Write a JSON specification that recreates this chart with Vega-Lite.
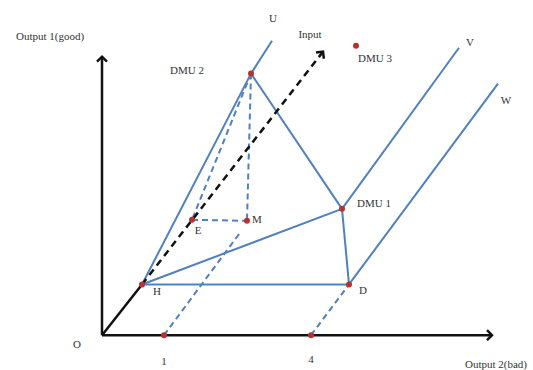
{
  "$schema": "https://vega.github.io/schema/vega-lite/v6.json",
  "width": 533,
  "height": 370,
  "autosize": {"type": "fit", "contains": "padding"},
  "padding": 0,
  "background": "white",
  "config": {"view": {"stroke": null}},
  "datasets": {
    "segments": [
      {"kind": "axis", "x": 0, "y": 0, "x2": 0, "y2": 280},
      {"kind": "axis", "x": 0, "y": 0, "x2": 390, "y2": 0},
      {"kind": "axis", "x": 0, "y": 0, "x2": 40, "y2": 51},
      {"kind": "input", "x": 40, "y": 51, "x2": 221, "y2": 285},
      {"kind": "solid", "x": 40, "y": 51, "x2": 149, "y2": 263},
      {"kind": "solid", "x": 149, "y": 263, "x2": 170, "y2": 296},
      {"kind": "solid", "x": 149, "y": 263, "x2": 240, "y2": 127},
      {"kind": "solid", "x": 40, "y": 51, "x2": 240, "y2": 127},
      {"kind": "solid", "x": 240, "y": 127, "x2": 247, "y2": 51},
      {"kind": "solid", "x": 40, "y": 51, "x2": 247, "y2": 51},
      {"kind": "solid", "x": 240, "y": 127, "x2": 357, "y2": 289},
      {"kind": "solid", "x": 247, "y": 51, "x2": 396, "y2": 253},
      {"kind": "dashed", "x": 149, "y": 263, "x2": 90, "y2": 116},
      {"kind": "dashed", "x": 149, "y": 263, "x2": 145, "y2": 115},
      {"kind": "dashed", "x": 90, "y": 116, "x2": 145, "y2": 115},
      {"kind": "dashed", "x": 62, "y": 0, "x2": 138, "y2": 103},
      {"kind": "dashed", "x": 209, "y": 0, "x2": 247, "y2": 51}
    ],
    "points": [
      {"name": "H", "x": 40, "y": 51},
      {"name": "E", "x": 90, "y": 116},
      {"name": "M", "x": 145, "y": 115},
      {"name": "DMU 2", "x": 149, "y": 263},
      {"name": "DMU 1", "x": 240, "y": 127},
      {"name": "D", "x": 247, "y": 51},
      {"name": "DMU 3", "x": 254, "y": 291},
      {"name": "1", "x": 62, "y": 0},
      {"name": "4", "x": 209, "y": 0}
    ],
    "labels": [
      {"label": "Output 1(good)", "x": -52, "y": 300},
      {"label": "DMU 2", "x": 85, "y": 266},
      {"label": "U", "x": 171, "y": 318},
      {"label": "Input", "x": 208, "y": 302},
      {"label": "DMU 3", "x": 273, "y": 278},
      {"label": "V", "x": 368, "y": 294},
      {"label": "W", "x": 404, "y": 235},
      {"label": "DMU 1", "x": 272, "y": 132},
      {"label": "E", "x": 96, "y": 105},
      {"label": "M", "x": 155, "y": 116},
      {"label": "H", "x": 55, "y": 43},
      {"label": "D", "x": 261, "y": 44},
      {"label": "O", "x": -25, "y": -10},
      {"label": "1", "x": 62, "y": -27},
      {"label": "4", "x": 209, "y": -25},
      {"label": "Output 2(bad)", "x": 394, "y": -30}
    ],
    "arrows": [
      {"name": "y-axis", "x": 0, "y": 280, "dir": "up"},
      {"name": "x-axis", "x": 390, "y": 0, "dir": "right"},
      {"name": "input", "x": 221, "y": 285, "dir": "input"}
    ]
  },
  "encoding": {
    "x": {"field": "x", "type": "quantitative", "scale": {"domain": [-102, 431], "nice": false, "zero": false}, "axis": null},
    "y": {"field": "y", "type": "quantitative", "scale": {"domain": [-33, 337], "nice": false, "zero": false}, "axis": null}
  },
  "layer": [
    {
      "data": {"name": "segments"},
      "transform": [{"filter": "datum.kind === 'solid'"}],
      "mark": {"type": "rule", "color": "#4f81bd", "strokeWidth": 2},
      "encoding": {"x2": {"field": "x2"}, "y2": {"field": "y2"}}
    },
    {
      "data": {"name": "segments"},
      "transform": [{"filter": "datum.kind === 'dashed'"}],
      "mark": {"type": "rule", "color": "#4f81bd", "strokeWidth": 2, "strokeDash": [6, 4]},
      "encoding": {"x2": {"field": "x2"}, "y2": {"field": "y2"}}
    },
    {
      "data": {"name": "segments"},
      "transform": [{"filter": "datum.kind === 'axis'"}],
      "mark": {"type": "rule", "color": "#111111", "strokeWidth": 2.5},
      "encoding": {"x2": {"field": "x2"}, "y2": {"field": "y2"}}
    },
    {
      "data": {"name": "segments"},
      "transform": [{"filter": "datum.kind === 'input'"}],
      "mark": {"type": "rule", "color": "#111111", "strokeWidth": 2.5, "strokeDash": [7, 5]},
      "encoding": {"x2": {"field": "x2"}, "y2": {"field": "y2"}}
    },
    {
      "data": {"name": "arrows"},
      "transform": [{"filter": "datum.dir === 'up'"}],
      "mark": {"type": "point", "shape": "M-1,1L0,0L1,1", "filled": false, "stroke": "#111111", "strokeWidth": 2.5, "size": 100, "opacity": 1}
    },
    {
      "data": {"name": "arrows"},
      "transform": [{"filter": "datum.dir === 'right'"}],
      "mark": {"type": "point", "shape": "M-1,1L0,0L1,1", "angle": 90, "filled": false, "stroke": "#111111", "strokeWidth": 2.5, "size": 100, "opacity": 1}
    },
    {
      "data": {"name": "arrows"},
      "transform": [{"filter": "datum.dir === 'input'"}],
      "mark": {"type": "point", "shape": "M-1,1L0,0L1,1", "angle": 38, "filled": false, "stroke": "#111111", "strokeWidth": 2.5, "size": 100, "opacity": 1}
    },
    {
      "data": {"name": "points"},
      "mark": {"type": "point", "filled": true, "color": "#b8312f", "size": 36, "opacity": 1}
    },
    {
      "data": {"name": "labels"},
      "mark": {"type": "text", "font": "Liberation Serif", "fontSize": 11, "color": "#333333", "align": "center", "baseline": "middle"},
      "encoding": {"text": {"field": "label"}}
    }
  ]
}
